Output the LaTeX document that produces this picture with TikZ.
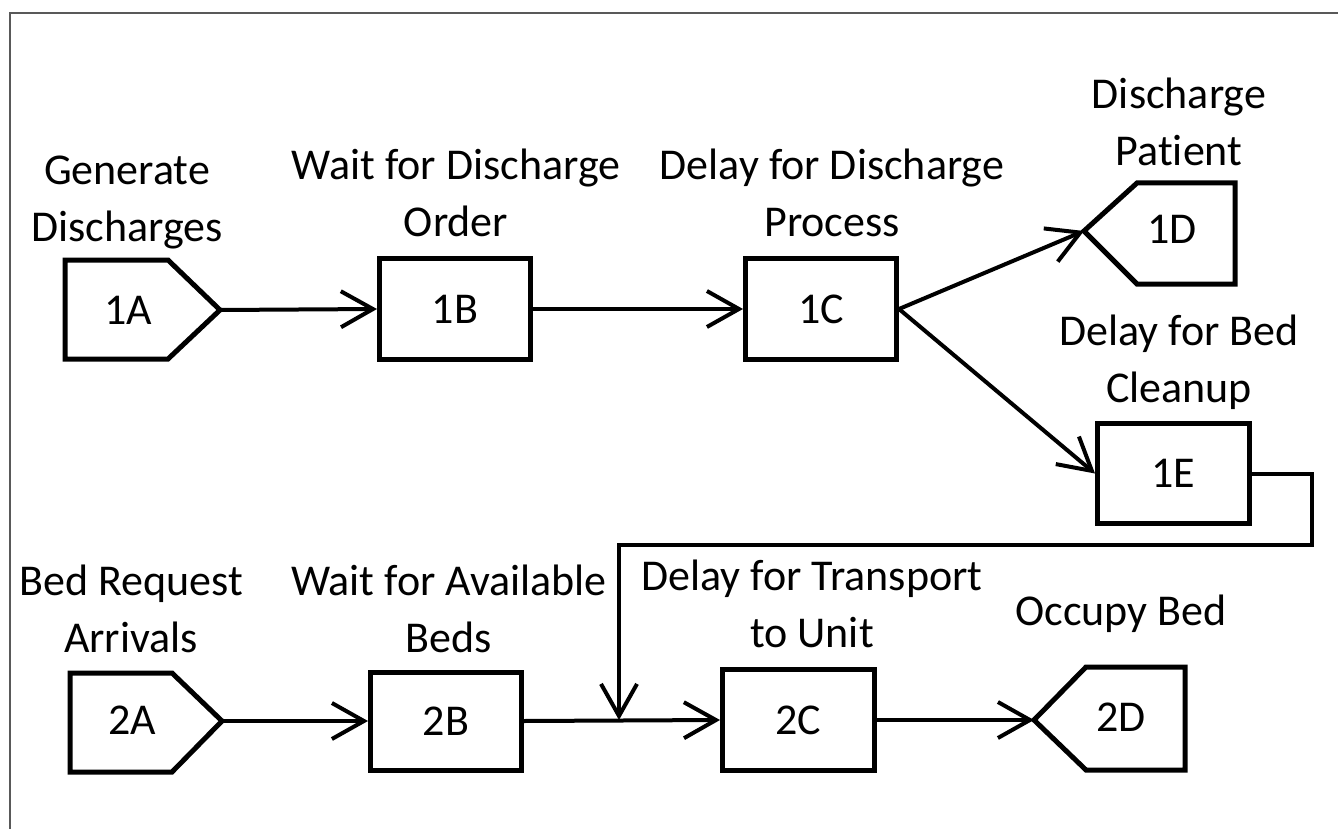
\documentclass[tikz,border=0pt]{standalone}
\usepackage{fontspec}
\setmainfont{Carlito}[Ligatures={NoCommon}]
\usetikzlibrary{arrows.meta}
\begin{document}
\begin{tikzpicture}[x=1pt,y=-1pt,
  font=\fontsize{44}{57}\selectfont,
  box/.style={draw, line width=5pt, minimum width=151pt, minimum height=101pt, inner sep=0pt},
  shp/.style={draw, line width=5pt, line join=miter},
  lbl/.style={align=center, anchor=north, inner sep=0pt},
  txt/.style={inner sep=0pt},
  conn/.style={line width=4pt, -{Straight Barb[length=32pt,width=36pt]}}]
\useasboundingbox (0,0) rectangle (1338,829);
% frame
\draw[line width=2pt, draw=black!65] (10,829) -- (10,13) -- (1338,13);

% pentagons (drawn shapes) with named text nodes and tip coordinates
\draw[shp] (65,260) -- (168,260) -- (220,310) -- (168,359) -- (65,359) -- cycle;
\node[txt] (1A) at (128,310) {1A};
\coordinate (1Atip) at (220,310);

\draw[shp] (70,673) -- (172,673) -- (222,721) -- (172,772) -- (70,772) -- cycle;
\node[txt] (2A) at (132,720) {2A};
\coordinate (2Atip) at (222,721);

\draw[shp] (1235,183) -- (1137,183) -- (1084,231) -- (1137,284) -- (1235,284) -- cycle;
\node[txt] (1D) at (1172,229) {1D};
\coordinate (1Dtip) at (1084,231);

\draw[shp] (1185,667) -- (1086,667) -- (1034,720) -- (1086,770) -- (1185,770) -- cycle;
\node[txt] (2D) at (1121,717) {2D};
\coordinate (2Dtip) at (1034,720);

% rectangles
\node[box] (1B) at (455,309) {1B};
\node[box] (1C) at (821,309) {1C};
\node[box, minimum width=152pt, minimum height=100pt] (1E) at (1173.5,473.5) {1E};
\node[box, minimum height=98pt] (2B) at (446,721) {2B};
\node[box, minimum width=152pt] (2C) at (798.5,720) {2C};

% labels
\node[lbl] (L1A) at (127,144) {\strut Generate\\\strut Discharges};
\node[lbl] (L1B) at (456,139) {\strut Wait for Discharge\\\strut Order};
\node[lbl] (L1C) at (832,139) {\strut Delay for Discharge\\\strut Process};
\node[lbl] (L1D) at (1179,68) {\strut Discharge\\\strut Patient};
\node[lbl] (L1E) at (1179,305) {\strut Delay for Bed\\\strut Cleanup};
\node[lbl] (L2A) at (131,555) {\strut Bed Request\\\strut Arrivals};
\node[lbl] (L2B) at (449,555) {\strut Wait for Available\\\strut Beds};
\node[lbl] (L2C) at (812,550) {\strut Delay for Transport\\\strut to Unit};
\node[lbl] (L2D) at (1121,585) {\strut Occupy Bed};

% connectors
\draw[conn] (1Atip) -- (1B.west);
\draw[conn] (1B.east) -- (1C.west);
\draw[conn] (1C.east) -- (1Dtip);
\draw[conn] (1C.east) -- (1E.west);
\coordinate (c2) at (1312,545);
\coordinate (c3) at (619,545);
\coordinate (m) at (619,720);
\draw[conn, line join=miter] (1E.east) -- (1E.east -| c2) -- (c2) -- (c3) -- (m);
\draw[conn] (2Atip) -- (2B.west);
\draw[conn] (2B.east) -- (2C.west);
\draw[conn] (2C.east) -- (2Dtip);
\end{tikzpicture}
\end{document}
